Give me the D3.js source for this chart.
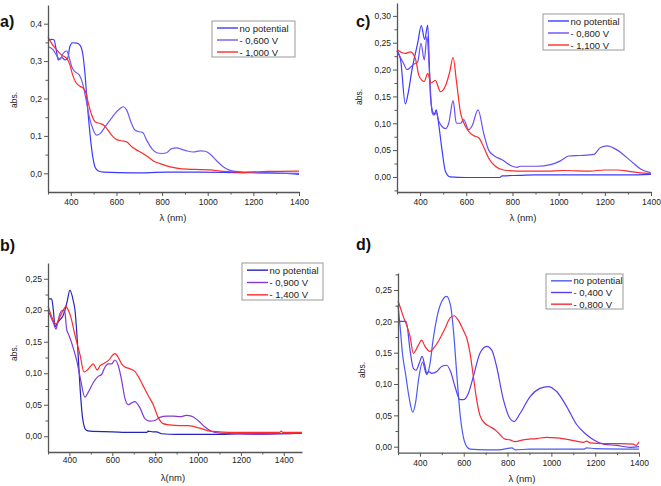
<!DOCTYPE html>
<html><head><meta charset="utf-8">
<script src="https://cdn.jsdelivr.net/npm/d3@7"></script>
<style>body{margin:0;background:#fff}svg{display:block}text{font-family:"Liberation Sans",Arial,sans-serif}</style>
</head><body>
<script>
// ---------- DATA ----------
// Panel a
const aLegend = ["no potential", "- 0,600 V", "- 1,000 V"];
const aNone = [[300,0.354],[316,0.358],[326,0.357],[335,0.334],[345,0.303],[360,0.31],[375,0.303],[386,0.307],[396,0.339],[408,0.349],[426,0.348],[440,0.343],[452,0.321],[462,0.267],[473,0.178],[481,0.124],[492,0.062],[506,0.017],[521,0.006],[543,0.003],[674,0.001],[820,0.003],[967,0.003],[1113,0.002],[1259,0.001],[1361,-0.001],[1400,-0.003]];
const aMid = [[300,0.339],[323,0.33],[341,0.312],[353,0.305],[367,0.321],[382,0.327],[394,0.307],[404,0.285],[418,0.272],[437,0.263],[452,0.24],[467,0.196],[481,0.151],[499,0.115],[513,0.102],[528,0.106],[550,0.124],[572,0.142],[594,0.16],[616,0.173],[630,0.178],[645,0.169],[663,0.138],[682,0.115],[701,0.111],[715,0.109],[733,0.088],[755,0.066],[777,0.055],[799,0.053],[820,0.055],[842,0.066],[864,0.068],[886,0.064],[908,0.06],[937,0.057],[967,0.06],[989,0.059],[1011,0.051],[1040,0.033],[1069,0.017],[1098,0.008],[1142,0.004],[1201,0.002],[1259,0.001],[1400,0]];
const aHigh = [[300,0.365],[315,0.348],[338,0.33],[360,0.316],[382,0.307],[396,0.29],[408,0.263],[423,0.242],[440,0.233],[455,0.227],[467,0.214],[477,0.187],[492,0.155],[506,0.138],[528,0.133],[543,0.129],[557,0.12],[579,0.102],[601,0.09],[623,0.087],[645,0.084],[667,0.071],[689,0.062],[711,0.055],[733,0.046],[762,0.033],[791,0.026],[820,0.02],[864,0.014],[908,0.011],[967,0.01],[1011,0.009],[1055,0.006],[1113,0.004],[1157,0.002],[1201,0.004],[1259,0.005],[1400,0.006]];
const aYTicks = [0, 0.1, 0.2, 0.3, 0.4];

// Panel b
const bLegend = ["no potential", "- 0,900 V", "- 1,400 V"];
const bNone = [[300,0.218],[317,0.218],[325,0.2],[333,0.174],[345,0.18],[356,0.185],[368,0.19],[379,0.2],[390,0.215],[402,0.232],[418,0.215],[426,0.2],[437,0.15],[449,0.08],[461,0.03],[477,0.01],[496,0.008],[600,0.007],[682,0.006],[760,0.006],[767,0.008],[790,0.007],[806,0.007],[829,0.004],[900,0.003],[1000,0.003],[1100,0.003],[1200,0.004],[1300,0.004],[1400,0.004],[1485,0.005]];
const bMid = [[300,0.2],[325,0.18],[337,0.17],[345,0.18],[356,0.195],[367,0.2],[378,0.198],[387,0.17],[398,0.16],[418,0.14],[434,0.12],[452,0.09],[472,0.062],[488,0.07],[511,0.085],[534,0.095],[550,0.098],[566,0.11],[581,0.115],[597,0.115],[612,0.121],[628,0.112],[643,0.09],[659,0.06],[674,0.05],[690,0.053],[705,0.055],[729,0.045],[752,0.028],[775,0.024],[798,0.025],[822,0.03],[853,0.032],[884,0.032],[915,0.031],[946,0.033],[969,0.032],[1000,0.025],[1031,0.015],[1062,0.008],[1101,0.005],[1163,0.004],[1300,0.003],[1400,0.004],[1485,0.005]];
const bHigh = [[300,0.207],[317,0.19],[337,0.178],[356,0.19],[371,0.2],[384,0.206],[395,0.2],[406,0.19],[426,0.16],[449,0.13],[468,0.102],[483,0.105],[496,0.11],[511,0.115],[530,0.105],[543,0.112],[558,0.115],[581,0.12],[612,0.131],[628,0.125],[643,0.115],[659,0.11],[682,0.107],[705,0.103],[721,0.095],[744,0.08],[767,0.065],[791,0.05],[814,0.03],[837,0.02],[868,0.018],[915,0.017],[953,0.017],[985,0.015],[1016,0.012],[1055,0.008],[1101,0.007],[1163,0.006],[1300,0.006],[1380,0.006],[1388,0.008],[1396,0.006],[1485,0.006]];
const bYTicks = [0, 0.05, 0.10, 0.15, 0.20, 0.25];

// Panel c
const cLegend = ["no potential", "- 0,800 V", "- 1,100 V"];
const cNone = [[300,0.235],[315,0.22],[336,0.136],[350,0.16],[365,0.2],[390,0.25],[405,0.282],[420,0.256],[433,0.283],[445,0.15],[456,0.12],[463,0.118],[470,0.125],[480,0.1],[495,0.05],[510,0.01],[530,0.0],[600,-0.001],[745,-0.001],[755,0.002],[830,0.003],[900,0.004],[1100,0.004],[1300,0.004],[1400,0.005]];
const cMid = [[300,0.235],[330,0.21],[343,0.2],[372,0.21],[390,0.215],[404,0.249],[418,0.218],[430,0.262],[440,0.2],[452,0.12],[460,0.115],[470,0.12],[480,0.105],[495,0.094],[510,0.09],[524,0.1],[543,0.142],[557,0.1],[575,0.1],[589,0.107],[610,0.088],[625,0.095],[651,0.125],[676,0.08],[697,0.05],[719,0.04],[755,0.032],[799,0.02],[820,0.018],[835,0.02],[907,0.02],[965,0.023],[1008,0.03],[1044,0.039],[1095,0.04],[1153,0.042],[1181,0.055],[1210,0.058],[1254,0.05],[1312,0.03],[1355,0.015],[1398,0.008]];
const cHigh = [[300,0.237],[336,0.23],[358,0.233],[380,0.22],[394,0.19],[408,0.18],[418,0.178],[433,0.193],[447,0.175],[466,0.18],[488,0.159],[510,0.17],[528,0.195],[543,0.223],[557,0.18],[575,0.12],[589,0.101],[610,0.085],[632,0.077],[654,0.073],[676,0.055],[697,0.035],[726,0.02],[762,0.013],[820,0.011],[950,0.011],[1022,0.012],[1138,0.011],[1196,0.013],[1254,0.013],[1312,0.01],[1369,0.007],[1400,0.006]];
const cYTicks = [0, 0.05, 0.10, 0.15, 0.20, 0.25, 0.30];

// Panel d
const dLegend = ["no potential", "- 0,400 V", "- 0,800 V"];
const dNone = [[300,0.226],[310,0.19],[320,0.15],[335,0.115],[350,0.08],[367,0.055],[380,0.07],[395,0.11],[412,0.135],[425,0.12],[432,0.115],[445,0.13],[460,0.17],[480,0.21],[500,0.232],[522,0.24],[540,0.225],[553,0.186],[568,0.117],[583,0.053],[598,0.016],[614,0.0],[629,-0.004],[700,-0.005],[760,-0.005],[820,-0.002],[835,-0.005],[900,-0.004],[1150,-0.004],[1160,-0.002],[1200,-0.003],[1400,-0.004]];
const dMid = [[300,0.2],[320,0.2],[337,0.2],[355,0.154],[370,0.125],[382,0.122],[397,0.133],[410,0.144],[422,0.13],[431,0.117],[440,0.12],[454,0.117],[477,0.12],[499,0.128],[522,0.13],[540,0.12],[560,0.096],[583,0.075],[598,0.075],[621,0.085],[644,0.112],[674,0.149],[705,0.16],[728,0.154],[750,0.128],[781,0.075],[811,0.045],[830,0.04],[857,0.053],[903,0.08],[948,0.093],[986,0.096],[1024,0.088],[1070,0.064],[1116,0.035],[1154,0.021],[1192,0.011],[1238,0.004],[1298,0.002],[1359,-0.001],[1400,0]];
const dHigh = [[300,0.233],[324,0.208],[355,0.176],[370,0.149],[393,0.162],[408,0.17],[423,0.16],[446,0.152],[469,0.16],[492,0.173],[515,0.189],[537,0.205],[556,0.209],[575,0.202],[598,0.186],[614,0.173],[629,0.149],[644,0.112],[659,0.075],[674,0.05],[697,0.037],[720,0.032],[743,0.027],[766,0.019],[789,0.012],[811,0.011],[834,0.008],[872,0.011],[933,0.013],[979,0.015],[1024,0.014],[1085,0.011],[1146,0.007],[1161,0.009],[1177,0.006],[1238,0.005],[1314,0.005],[1374,0.004],[1387,0.002],[1400,0.008]];
const dYTicks = [0, 0.05, 0.10, 0.15, 0.20, 0.25];

const xTicks = [400, 600, 800, 1000, 1200, 1400];
const xMinorTicks = [300, 500, 700, 900, 1100, 1300, 1500];

// ---------- LAYOUT ----------
const panels = [
  {letter:"a)", lx:0, ly:27, xd:[300,1400], xr:[48,299], yd:[-0.05,0.45], yr:[192,5], yt:aYTicks, fmt:".1f",
   series:[aNone,aMid,aHigh], legend:aLegend, colors:["#3b3bff","#6f5cf2","#ff2a2a"],
   box:[212,21,83,36], xlab:"λ (nm)", xlx:173, xly:221, ylx:14, yly:100, labY:205},
  {letter:"b)", lx:0, ly:251, xd:[300,1485], xr:[48,302], yd:[-0.025,0.275], yr:[452,263], yt:bYTicks, fmt:".2f",
   series:[bNone,bMid,bHigh], legend:bLegend, colors:["#2424b8","#7e3ad8","#ff2a2a"],
   box:[242,263,81,37], xlab:"λ(nm)", xlx:173, xly:481, ylx:14, yly:353, labY:463},
  {letter:"c)", lx:356, ly:27, xd:[300,1400], xr:[397,651], yd:[-0.028,0.324], yr:[192,3], yt:cYTicks, fmt:".2f",
   series:[cNone,cMid,cHigh], legend:cLegend, colors:["#3b3bff","#6a4ef2","#ff2a2a"],
   box:[543,14,81,36], xlab:"λ (nm)", xlx:523, xly:221, ylx:359, yly:97, labY:205},
  {letter:"d)", lx:356, ly:250, xd:[300,1400], xr:[398,639], yd:[-0.0096,0.2772], yr:[452.7,273], yt:dYTicks, fmt:".2f",
   series:[dNone,dMid,dHigh], legend:dLegend, colors:["#4a5af2","#5a3ef0","#f52a3a"],
   box:[546,274,77,35], xlab:"λ (nm)", xlx:522, xly:482, ylx:362, yly:370, labY:466}
];

const svg = d3.select("body").append("svg").attr("width",661).attr("height",486);
const axisColor = "#555";

panels.forEach(p => {
  const g = svg.append("g");
  const x = d3.scaleLinear().domain(p.xd).range(p.xr);
  const y = d3.scaleLinear().domain(p.yd).range(p.yr);
  const fmt = v => d3.format(p.fmt)(v).replace(".", ",");

  // lines
  const line = d3.line().x(d => x(d[0])).y(d => y(d[1])).curve(d3.curveMonotoneX);
  p.series.forEach((s, i) => {
    g.append("path").datum(s).attr("d", line).attr("fill","none")
      .attr("stroke", p.colors[i]).attr("stroke-width", 1.2);
  });

  // y axis
  const yMin = [];
  for (let i = 0; i < p.yt.length; i++) yMin.push(p.yt[i] + (p.yt[1]-p.yt[0])/2);
  yMin.push(p.yt[0] - (p.yt[1]-p.yt[0])/2);
  const yAxis = g.append("g").attr("transform",`translate(${p.xr[0]},0)`)
    .call(d3.axisLeft(y).tickValues(p.yt).tickFormat(fmt).tickSize(4).tickSizeOuter(0));
  g.append("g").attr("transform",`translate(${p.xr[0]},0)`)
    .call(d3.axisLeft(y).tickValues(yMin.filter(v => v > p.yd[0] && v < p.yd[1])).tickFormat("").tickSize(2.5).tickSizeOuter(0))
    .call(a => a.select(".domain").remove());
  // x axis
  const xAxis = g.append("g").attr("transform",`translate(0,${p.yr[0]})`)
    .call(d3.axisBottom(x).tickValues(xTicks).tickFormat(d3.format("d")).tickSize(4).tickSizeOuter(0));
  g.append("g").attr("transform",`translate(0,${p.yr[0]})`)
    .call(d3.axisBottom(x).tickValues(xMinorTicks.filter(v => v >= p.xd[0] && v <= p.xd[1])).tickFormat("").tickSize(2.5).tickSizeOuter(0))
    .call(a => a.select(".domain").remove());

  g.selectAll(".domain").attr("stroke", axisColor).attr("stroke-width", 1.3);
  g.selectAll(".tick line").attr("stroke", axisColor).attr("stroke-width", 1);
  yAxis.selectAll(".tick text").attr("font-size", 8.5).attr("fill","#222").attr("x", -6);
  xAxis.selectAll(".tick text").attr("font-size", 8.5).attr("fill","#222").attr("y", 0)
    .attr("dy", 0).attr("transform", `translate(0,${p.labY - p.yr[0]})`);

  // axis titles
  g.append("text").attr("x", p.xlx).attr("y", p.xly).attr("text-anchor","middle")
    .attr("font-size", 9.5).attr("fill","#222").text(p.xlab);
  g.append("text").attr("transform",`translate(${p.ylx + 3},${p.yly}) rotate(-90)`)
    .attr("text-anchor","middle").attr("font-size", 8.5).attr("fill","#222").text("abs.");

  // panel letter
  g.append("text").attr("x", p.lx).attr("y", p.ly).attr("font-size", 16).attr("font-weight","bold")
    .attr("fill","#111").text(p.letter);

  // legend
  const [bx, by, bw, bh] = p.box;
  g.append("rect").attr("x", bx).attr("y", by).attr("width", bw).attr("height", bh)
    .attr("fill","#fff").attr("stroke","#999").attr("stroke-width", 1);
  p.legend.forEach((t, i) => {
    const ry = by + bh * (i + 0.5) / 3 + 1;
    g.append("line").attr("x1", bx + 5).attr("x2", bx + 26).attr("y1", ry).attr("y2", ry)
      .attr("stroke", p.colors[i]).attr("stroke-width", 1.4);
    g.append("text").attr("x", bx + 27.5).attr("y", ry + 3.5).attr("font-size", 9.5)
      .attr("fill","#222").text(t);
  });
});
</script>
</body></html>
